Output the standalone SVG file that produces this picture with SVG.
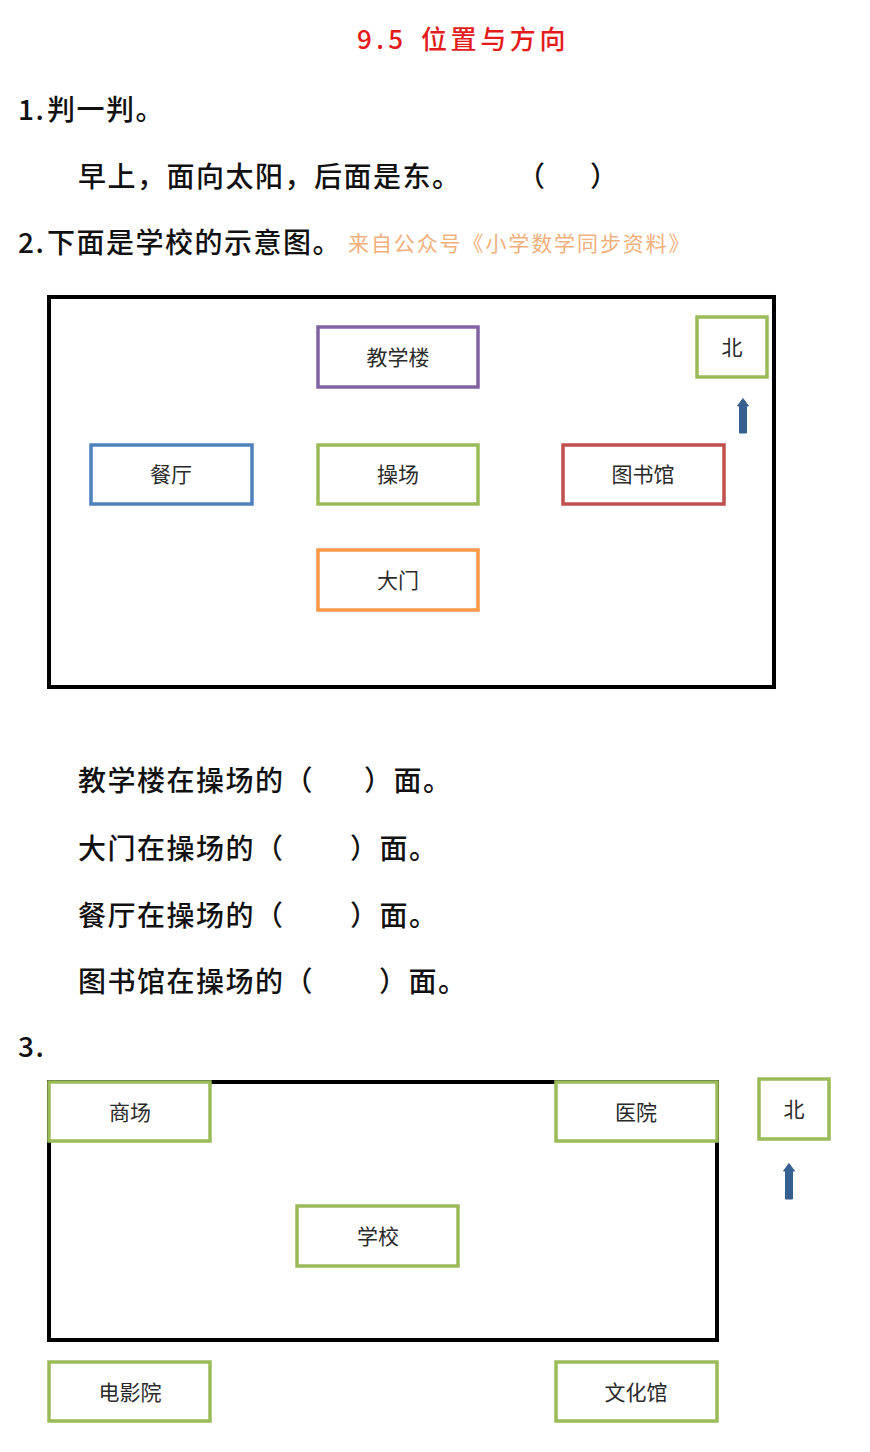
<svg xmlns="http://www.w3.org/2000/svg" width="870" height="1452" viewBox="0 0 870 1452">
<style>
  .t { font-family: "Noto Sans CJK SC", "Noto Sans", sans-serif; fill: #111; font-weight: 500; }
  .body { font-size: 28px; letter-spacing: 1.5px; }
  .lbl { font-family: "Noto Sans CJK SC", sans-serif; font-size: 21px; fill: #2a2a2a; text-anchor: middle; dominant-baseline: central; }
  .box { fill: #fff; stroke-width: 3.5; }
  .g { stroke: #9bbb59; }
  .frame { fill: none; stroke: #000; stroke-width: 4; }
  .arrow { fill: #36608f; stroke: #36608f; stroke-width: 1; stroke-linejoin: round; }
</style>
<rect width="870" height="1452" fill="#fff"/>

<g id="title">
  <text class="t" x="357" y="49" font-size="26" style="fill:#e31b1b" textLength="46" lengthAdjust="spacing">9.5</text>
  <text class="t" x="421" y="49" font-size="26" letter-spacing="3.6" style="fill:#e31b1b">位置与方向</text>
</g>

<g id="q1">
  <text class="t body" x="18" y="120">1.</text>
  <text class="t body" x="47" y="120">判一判。</text>
  <text class="t body" x="78" y="187">早上，面向太阳，后面是东。</text>
  <text class="t body" x="517" y="187">（</text>
  <text class="t body" x="590" y="187">）</text>
</g>

<g id="q2-heading">
  <text class="t body" x="18" y="253">2.</text>
  <text class="t body" x="47" y="253">下面是学校的示意图。</text>
  <text class="t" x="348" y="251" font-size="21" letter-spacing="1.9" style="fill:#f2b07c;font-weight:400">来自公众号《小学数学同步资料》</text>
</g>

<g id="map1">
  <rect class="frame" x="49" y="297" width="725" height="390"/>
  <g id="jiaoxuelou">
    <rect class="box" x="318" y="327" width="160" height="60" stroke="#8064a2"/>
    <text class="lbl" x="398" y="356">教学楼</text>
  </g>
  <g id="canting">
    <rect class="box" x="91" y="445" width="161" height="59" stroke="#4f81bd"/>
    <text class="lbl" x="171" y="473">餐厅</text>
  </g>
  <g id="caochang">
    <rect class="box g" x="318" y="445" width="160" height="59"/>
    <text class="lbl" x="398" y="473">操场</text>
  </g>
  <g id="tushuguan">
    <rect class="box" x="563" y="445" width="161" height="59" stroke="#c0504d"/>
    <text class="lbl" x="643" y="473">图书馆</text>
  </g>
  <g id="damen">
    <rect class="box" x="318" y="550" width="160" height="60" stroke="#f79646"/>
    <text class="lbl" x="398" y="579">大门</text>
  </g>
  <g id="north1">
    <rect class="box g" x="697" y="317" width="70" height="60"/>
    <text class="lbl" x="732" y="346">北</text>
  </g>
</g>

<g id="q2-questions">
  <text class="t body" x="78" y="791">教学楼在操场的（</text>
  <text class="t body" x="364" y="791">）面。</text>
  <text class="t body" x="78" y="859">大门在操场的（</text>
  <text class="t body" x="350" y="859">）面。</text>
  <text class="t body" x="78" y="926">餐厅在操场的（</text>
  <text class="t body" x="350" y="926">）面。</text>
  <text class="t body" x="78" y="992">图书馆在操场的（</text>
  <text class="t body" x="379" y="992">）面。</text>
</g>

<g id="q3-heading">
  <text class="t body" x="18" y="1057">3.</text>
</g>

<g id="map2">
  <rect class="frame" x="49" y="1082" width="668" height="258"/>
  <g id="shangchang">
    <rect class="box g" x="49" y="1082" width="161" height="59" stroke-width="4"/>
    <text class="lbl" x="130" y="1111">商场</text>
  </g>
  <g id="yiyuan">
    <rect class="box g" x="556" y="1082" width="161" height="59" stroke-width="4"/>
    <text class="lbl" x="636" y="1111">医院</text>
  </g>
  <g id="xuexiao">
    <rect class="box g" x="297" y="1206" width="161" height="60" stroke-width="4"/>
    <text class="lbl" x="378" y="1235">学校</text>
  </g>
  <g id="dianyingyuan">
    <rect class="box g" x="49" y="1362" width="161" height="59" stroke-width="4"/>
    <text class="lbl" x="130" y="1391">电影院</text>
  </g>
  <g id="wenhuaguan">
    <rect class="box g" x="556" y="1362" width="161" height="59" stroke-width="4"/>
    <text class="lbl" x="636" y="1391">文化馆</text>
  </g>
  <g id="north2">
    <rect class="box g" x="759" y="1079" width="70" height="60" stroke-width="4"/>
    <text class="lbl" x="794" y="1108">北</text>
  </g>
</g>

<g id="connectors">
  <path class="arrow" d="M739.5 433 L739.5 406 L737.5 406 L743 398.5 L748.5 406 L746.5 406 L746.5 433 Z"/>
  <path class="arrow" d="M785.5 1199 L785.5 1171 L783.5 1171 L789 1163.5 L794.5 1171 L792.5 1171 L792.5 1199 Z"/>
</g>
</svg>
